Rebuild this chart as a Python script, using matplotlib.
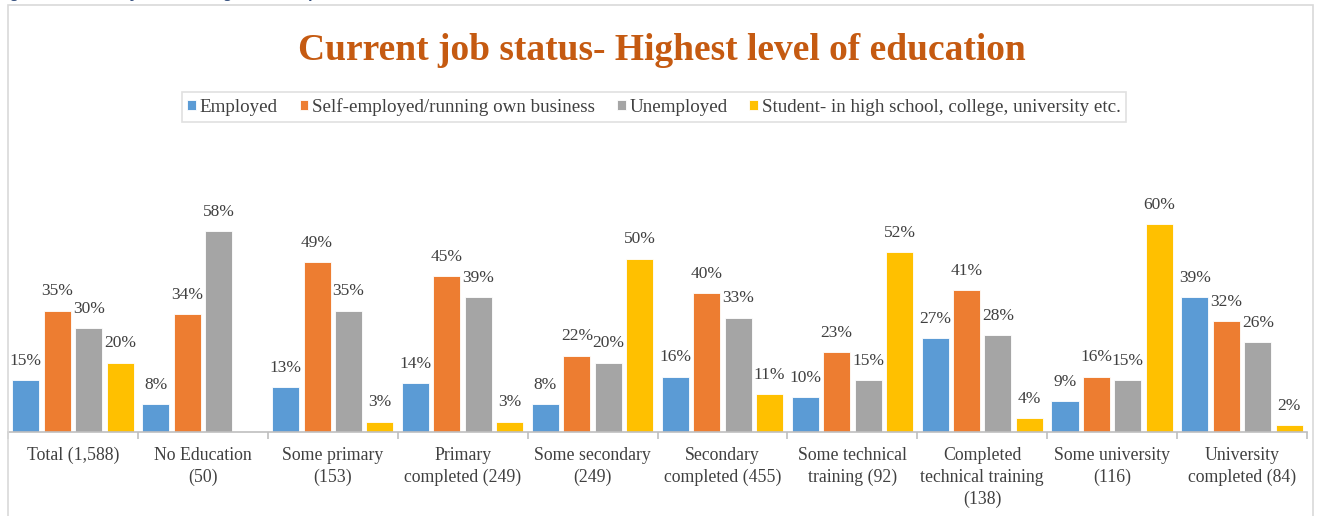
import matplotlib
matplotlib.use("Agg")
import matplotlib.pyplot as plt
from matplotlib.patches import Rectangle
import numpy as np

# Data: share of respondents by current job status, per education level
categories = [
    "Total (1,588)", "No Education\n(50)", "Some primary\n(153)",
    "Primary\ncompleted (249)", "Some secondary\n(249)", "Secondary\ncompleted (455)",
    "Some technical\ntraining (92)", "Completed\ntechnical training\n(138)",
    "Some university\n(116)", "University\ncompleted (84)",
]
series_names = [
    "Employed",
    "Self-employed/running own business",
    "Unemployed",
    "Student- in high school, college, university etc.",
]
employed      = [15, 8, 13, 14, 8, 16, 10, 27, 9, 39]
self_employed = [35, 34, 49, 45, 22, 40, 23, 41, 16, 32]
unemployed    = [30, 58, 35, 39, 20, 33, 15, 28, 15, 26]
student       = [20, 0, 3, 3, 50, 11, 52, 4, 60, 2]
series_values = [employed, self_employed, unemployed, student]
colors = ["#5B9BD5", "#ED7D31", "#A5A5A5", "#FFC000"]

W, H = 1319, 516
fig = plt.figure(figsize=(W / 100, H / 100), dpi=100)
plt.rcParams["font.family"] = ["Liberation Serif", "DejaVu Serif"]

# outer chart frame
fig.patches.append(Rectangle((8 / W, -0.1), (1313 - 8) / W, 1.1 - 5 / H,
                             transform=fig.transFigure, fill=False,
                             edgecolor="#D9D9D9", linewidth=1.2))

# caption above the frame
fig.text(-4 / W, 1 + 3 / H, "Figure 30: Current job status- Highest level of education",
         ha="left", va="baseline", fontsize=12, fontweight="bold", style="italic",
         color="#2F4A7A")

ax = fig.add_axes([8 / W, 1 - 432 / H, (1307 - 8) / W, (432 - 189.4) / H])
x = np.arange(len(categories))
step, width = 0.242, 0.208
for j, (vals, name, col) in enumerate(zip(series_values, series_names, colors)):
    pos = x + (j - 1.5) * step
    ax.bar(pos, vals, width=width, color=col, edgecolor="white", linewidth=0.6,
           label=name)
    for p, v in zip(pos, vals):
        if v > 0:
            ax.annotate(f"{v}%", (p, v), xytext=(0, 11), textcoords="offset points",
                        ha="center", va="baseline", fontsize=12.5, color="#404040")

ax.set_xlim(-0.5, len(categories) - 0.5)
ax.set_ylim(0, 70)
ax.set_yticks([])
for s in ["left", "right", "top"]:
    ax.spines[s].set_visible(False)
ax.spines["bottom"].set_color("#BFBFBF")
ax.spines["bottom"].set_linewidth(1.2)
ax.set_xticks(x)
ax.set_xticklabels(categories, fontsize=12.8, color="#404040", linespacing=1.38)
ax.tick_params(axis="x", which="major", length=0, pad=10.5)
ax.set_xticks(np.arange(-0.5, len(categories)), minor=True)
ax.tick_params(axis="x", which="minor", length=5, width=1.2, color="#BFBFBF")
ax.patch.set_alpha(0)

fig.text(662 / W, 1 - 60 / H, "Current job status- Highest level of education",
         ha="center", va="baseline", fontsize=27, fontweight="bold", color="#C55A11")

leg = fig.legend(loc="center", bbox_to_anchor=(654 / W, 1 - 107 / H), ncol=4,
                 frameon=True, fancybox=False, fontsize=13.7, handlelength=0.45,
                 handleheight=0.45, handletextpad=0.2, columnspacing=1.15,
                 borderpad=0.3, labelcolor="#404040")
leg.get_frame().set_edgecolor("#D9D9D9")
leg.get_frame().set_linewidth(1.2)

fig.savefig("out.png", dpi=100)
